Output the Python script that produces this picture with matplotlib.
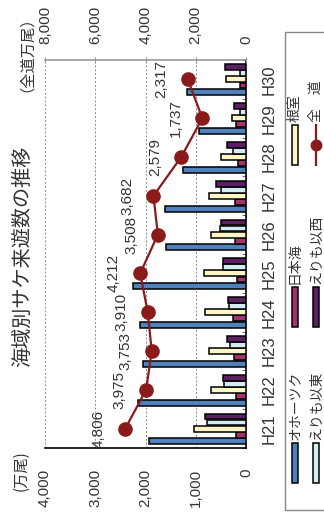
import numpy as np
import matplotlib
matplotlib.use("Agg")
import matplotlib.pyplot as plt
from matplotlib.patches import Rectangle
from matplotlib.lines import Line2D

plt.rcParams['font.family'] = ['Liberation Sans', 'Noto Sans CJK JP', 'DejaVu Sans']

years = ["H21", "H22", "H23", "H24", "H25", "H26", "H27", "H28", "H29", "H30"]
okhotsk = [1930, 2156, 2050, 2103, 2255, 1585, 1605, 1260, 929, 1174]
japan_sea = [200, 190, 245, 265, 180, 212, 212, 160, 192, 126]
nemuro = [1040, 690, 730, 822, 830, 690, 743, 490, 279, 390]
erimo_east = [770, 444, 325, 345, 464, 510, 490, 265, 113, 113]
erimo_west = [820, 464, 378, 358, 464, 497, 597, 378, 245, 415]
total = [4806, 3975, 3753, 3910, 4212, 3508, 3682, 2579, 1737, 2317]

series_names = ["オホーツク", "日本海", "根室", "えりも以東", "えりも以西"]
series_vals = [okhotsk, japan_sea, nemuro, erimo_east, erimo_west]
colors = ["#4f81bd", "#a3336b", "#fff5c6", "#d3ecf2", "#5c1f63"]
line_color = "#8b1a1a"
txt = "#333333"

bar_ticks = [0, 1000, 2000, 3000, 4000]
total_ticks = [0, 2000, 4000, 6000, 8000]

W, H = 324, 518
fig = plt.figure(figsize=(W / 100, H / 100), dpi=100)

def fx(x):
    return x / W

def fy(y):
    return 1 - y / H

L, R, T, B = 45, 246, 60, 448
ax = fig.add_axes([fx(L), fy(B), (R - L) / W, (B - T) / H])
ax2 = ax.twiny()

pos = np.arange(len(years))
bh = 0.15
step = 0.155
for k, (vals, c) in enumerate(zip(series_vals, colors)):
    off = (k - 2) * step
    if k == 0:
        off -= 0.02
    ax.barh(pos + off, vals, height=bh, color=c, edgecolor="black", linewidth=1.1, zorder=3)

ax.set_xlim(4000, 0)
ax.set_ylim(-0.5, len(years) - 0.5)
ax.set_xticks(bar_ticks)
ax.set_xticklabels([f"{v:,}" for v in bar_ticks])
ax.tick_params(axis="x", length=0, pad=15, labelrotation=90, labelsize=11, labelcolor=txt)
for v in bar_ticks[1:]:
    ax.axvline(v, linestyle=(0, (2, 2)), color="#8a8a8a", linewidth=0.7, zorder=0)

ax.yaxis.tick_right()
ax.set_yticks(pos)
ax.set_yticklabels(years)
ax.set_yticks(np.arange(-0.5, len(years), 1), minor=True)
ax.tick_params(axis="y", which="major", length=0, pad=11, labelrotation=90, labelsize=12, labelcolor=txt)
ax.tick_params(axis="y", which="minor", direction="in", length=3, right=True, left=False, color="#555555")
for t in ax.get_yticklabels():
    t.set_va("center")

for s in ["top", "left", "bottom"]:
    ax.spines[s].set_visible(False)
ax.spines["right"].set_color("black")
ax.spines["right"].set_linewidth(1.2)
ax.axhline(-0.5, color="black", linewidth=1.2, clip_on=False, zorder=4)

ax2.set_xlim(8000, 0)
ax2.plot(total, pos, color=line_color, linewidth=1.6, marker="o", markersize=9.5, zorder=5)
for v, p in zip(total, pos):
    ax2.annotate(f"{v:,}", (v, p), xytext=(-19, 0), textcoords="offset points",
                 rotation=90, ha="center", va="center", fontsize=11, color=txt)
ax2.set_xticks(total_ticks)
ax2.set_xticklabels([f"{v:,}" for v in total_ticks])
ax2.tick_params(axis="x", direction="inout", length=5, color="#999999", pad=9,
                labelrotation=90, labelsize=11, labelcolor=txt)
for s in ["bottom", "left", "right"]:
    ax2.spines[s].set_visible(False)
ax2.spines["top"].set_color("#999999")
ax2.spines["top"].set_linewidth(1.2)

# titles / unit labels
fig.text(fx(23), fy(256), "海域別サケ来遊数の推移", rotation=90, ha="center", va="center",
         fontsize=14.5, color=txt, family="Noto Sans CJK JP")
fig.text(fx(18), fy(46), "（全道万尾）", rotation=90, ha="center", va="center",
         fontsize=11, color=txt, family="Noto Sans CJK JP")
fig.text(fx(21), fy(471), "(万尾)", rotation=90, ha="center", va="center",
         fontsize=11, color=txt, family="Noto Sans CJK JP")

# manual legend (rotated)
fig.add_artist(Rectangle((fx(285), fy(510)), (340 - 285) / W, (510 - 32) / H,
                         transform=fig.transFigure, fill=False, edgecolor="#888888", linewidth=1))
col_x = [295, 316]
row_y = [(443, 483), (287, 327), (125, 165)]
entries = [(0, 0, 0), (1, 0, 1), (2, 0, 2), (3, 1, 0), (4, 1, 1)]
for idx, cidx, ridx in entries:
    x = col_x[cidx]
    y0, y1 = row_y[ridx]
    fig.add_artist(Rectangle((fx(x - 3), fy(y1)), 6 / W, (y1 - y0) / H, transform=fig.transFigure,
                             facecolor=colors[idx], edgecolor="black", linewidth=1.1))
    fig.text(fx(x), fy(y0 - 3), series_names[idx], rotation=90, ha="center", va="bottom",
             fontsize=10, color=txt, family="Noto Sans CJK JP")
x = col_x[1]
y0, y1 = row_y[2]
fig.add_artist(Line2D([fx(x), fx(x)], [fy(y1), fy(y0)], transform=fig.transFigure,
                      color=line_color, linewidth=1.6))
fig.add_artist(Line2D([fx(x)], [fy((y0 + y1) / 2)], transform=fig.transFigure,
                      color=line_color, marker="o", markersize=7.5))
fig.text(fx(x), fy(y0 - 3), "全　道", rotation=90, ha="center", va="bottom",
         fontsize=10, color=txt, family="Noto Sans CJK JP")

fig.savefig("out.png", dpi=100)
